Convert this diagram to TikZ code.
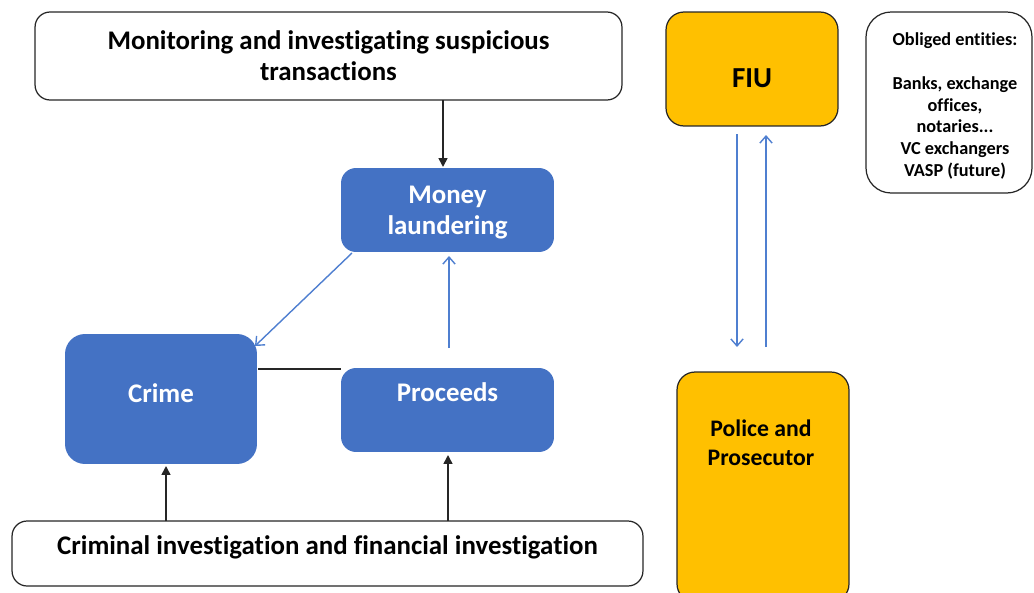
\documentclass[tikz,border=0pt]{standalone}
\usepackage{fontspec}
\setmainfont{Carlito}[Ligatures={NoCommon}]
\usetikzlibrary{arrows.meta}
\definecolor{boxblue}{HTML}{4472C4}
\definecolor{boxorange}{HTML}{FFC000}
\definecolor{lineblue}{HTML}{4F7FD0}
\begin{document}
\begin{tikzpicture}[x=0.02cm,y=-0.02cm,
  every node/.style={font=\bfseries, align=center, inner sep=0pt},
  whitebox/.style={draw=black!85, line width=0.7pt, fill=white, rounded corners=0.3cm},
  bluebox/.style={fill=boxblue, text=white, rounded corners=0.3cm},
  orangebox/.style={draw=black!85, line width=0.7pt, fill=boxorange, rounded corners=0.36cm},
  blackarrow/.style={-{Triangle[length=5pt,width=5pt]}, line width=0.9pt, black!85},
  bluearrow/.style={-{Straight Barb[length=4pt,width=7pt]}, line width=0.8pt, lineblue},
  mainfont/.style={font=\bfseries\fontsize{15.3}{17.6}\selectfont},
  whitetext/.style={mainfont, text=white},
]
\useasboundingbox (0,0) rectangle (1034,592);
% boxes
\node[whitebox, mainfont, minimum width=11.74cm, minimum height=1.76cm] (mon) at (328.5,56)
  {Monitoring and investigating suspicious\\transactions};
\node[orangebox, minimum width=3.44cm, minimum height=2.28cm,
  label={[font=\bfseries\fontsize{16.5}{18}\selectfont, yshift=-0.18cm]center:FIU}] (fiu) at (752,69) {};
\node[whitebox, rounded corners=0.5cm, minimum width=3.32cm, minimum height=3.62cm,
  label={[font=\bfseries\fontsize{10.4}{12.4}\selectfont, xshift=0.12cm, yshift=-0.07cm]center:{Obliged entities:\\ \\Banks, exchange\\offices,\\notaries...\\VC exchangers\\VASP (future)}}] (obl) at (949,102.5) {};
\node[bluebox, minimum width=4.26cm, minimum height=1.68cm,
  label={[whitetext, yshift=-0.06cm]center:{Money\\laundering}}] (ml) at (447.5,210) {};
\node[bluebox, rounded corners=0.4cm, minimum width=3.84cm, minimum height=2.6cm,
  label={[whitetext, yshift=0.12cm]center:Crime}] (crime) at (161,399) {};
\node[bluebox, minimum width=4.26cm, minimum height=1.68cm,
  label={[whitetext, yshift=0.36cm]center:Proceeds}] (proc) at (447.5,410) {};
\node[whitebox, minimum width=12.62cm, minimum height=1.3cm,
  label={[mainfont, yshift=0.12cm]center:Criminal investigation and financial investigation}] (cinv) at (327.5,553.5) {};
\node[orangebox, minimum width=3.44cm, minimum height=4.6cm] (pol) at (763,487) {};
\node[font=\bfseries\fontsize{13.5}{16.5}\selectfont] (poltext) at (761,443) {Police and\\Prosecutor};
% connector coordinates
\coordinate (monb) at (443,100);
\coordinate (mlt) at (443,167);
\coordinate (mlbl) at (352,253);
\coordinate (crtr) at (255,346);
\coordinate (procup) at (449,348);
\coordinate (mlb) at (449,256);
\coordinate (crr) at (258,369);
\coordinate (procl) at (341,369);
\coordinate (cinv1) at (166,521);
\coordinate (crb) at (166,466);
\coordinate (cinv2) at (448,521);
\coordinate (procb) at (448,455);
\coordinate (fiud) at (737,134);
\coordinate (pold) at (737,347);
\coordinate (polu) at (766,347);
\coordinate (fiuu) at (766,135);
% connectors
\draw[blackarrow] (monb) -- (mlt);
\draw[bluearrow] (mlbl) -- (crtr);
\draw[bluearrow] (procup) -- (mlb);
\draw[line width=0.9pt, black!85] (crr) -- (procl);
\draw[blackarrow] (cinv1) -- (crb);
\draw[blackarrow] (cinv2) -- (procb);
\draw[bluearrow] (fiud) -- (pold);
\draw[bluearrow] (polu) -- (fiuu);
\end{tikzpicture}
\end{document}
